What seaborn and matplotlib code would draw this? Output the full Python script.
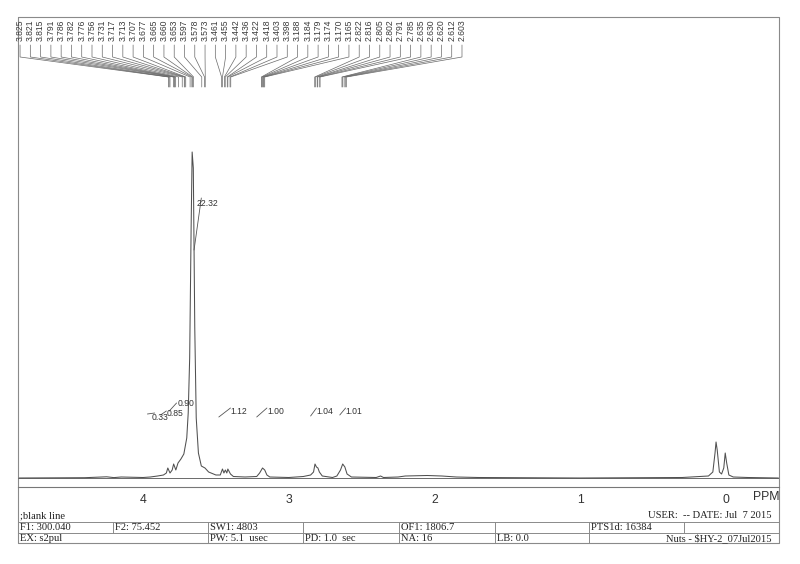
import numpy as np
import pandas as pd
import matplotlib
matplotlib.use("Agg")
import matplotlib.pyplot as plt
import seaborn as sns

# spectrum trace: chemical shift (ppm) and intensity (arb. units)
ppm = [4.85, 4.40, 4.25, 4.20, 4.15, 4.00, 3.95, 3.90, 3.86, 3.84, 3.83, 3.815,
       3.80, 3.79, 3.775, 3.76, 3.74, 3.72, 3.70, 3.69, 3.68, 3.67, 3.663, 3.655,
       3.645, 3.635, 3.62, 3.60, 3.575, 3.55, 3.50, 3.47, 3.455, 3.445, 3.435,
       3.425, 3.418, 3.40, 3.38, 3.30, 3.22, 3.20, 3.18, 3.165, 3.15, 3.13, 3.00,
       2.90, 2.85, 2.83, 2.82, 2.81, 2.80, 2.79, 2.77, 2.70, 2.67, 2.645, 2.63,
       2.615, 2.60, 2.57, 2.40, 2.37, 2.35, 2.25, 2.20, 2.05, 1.95, 1.85, 1.70,
       1.00, 0.30, 0.12, 0.09, 0.075, 0.068, 0.06, 0.045, 0.03, 0.015, 0.005,
       -0.005, -0.02, -0.05, -0.15, -0.36]
intensity = [0, 0.3, 1.2, 0.4, 1.0, 0.5, 1, 2, 3, 5, 10, 5,
             8, 14, 8, 15, 19, 24, 40, 65, 120, 250, 326, 310,
             150, 60, 25, 12, 10, 6, 3, 3, 9, 5, 8,
             5, 9, 4, 1.5, 1, 1.5, 5, 10, 8, 3, 1, 0.5,
             1.5, 3, 6, 14, 11, 10, 6, 2, 0.5, 2, 8, 14,
             11, 4, 1, 0.5, 2, 0.5, 1, 2, 2.5, 2, 1, 0.5,
             0, 0.5, 2, 6, 25, 36, 28, 6, 4, 10, 25,
             15, 3, 1, 0.5, 0]

peak_list = [3.825, 3.821, 3.815, 3.791, 3.786, 3.782, 3.776, 3.756, 3.731, 3.717,
             3.713, 3.707, 3.677, 3.665, 3.660, 3.653, 3.597, 3.578, 3.573, 3.461,
             3.455, 3.442, 3.436, 3.422, 3.418, 3.403, 3.398, 3.188, 3.184, 3.179,
             3.174, 3.170, 3.165, 2.822, 2.816, 2.805, 2.802, 2.791, 2.785, 2.635,
             2.630, 2.620, 2.612, 2.603]

integral_start = [3.97, 3.88, 3.82, 3.65, 3.48, 3.22, 2.85, 2.65]
integral_end = [3.92, 3.84, 3.77, 3.60, 3.40, 3.15, 2.81, 2.61]
integral_values = ["0.33", "0.85", "0.90", "22.32", "1.12", "1.00", "1.04", "1.01"]

ppm_ticks = [4, 3, 2, 1, 0]

row1 = [(20, "F1: 300.040"), (115, "F2: 75.452"), (210, "SW1: 4803"),
        (401, "OF1: 1806.7"), (591, "PTS1d: 16384")]
row2 = [(20, "EX: s2pul"), (210, "PW: 5.1  usec"), (305, "PD: 1.0  sec"),
        (401, "NA: 16"), (497, "LB: 0.0")]

sns.set_style("white")
plt.rcParams['font.family'] = ['Liberation Sans', 'DejaVu Sans']

W, H = 800, 564
fig = plt.figure(figsize=(8, 5.64), dpi=100)
fig.patch.set_facecolor("white")

# page frame and parameter table, in pixel units
page = fig.add_axes([0, 0, 1, 1])
page.set_xlim(0, W)
page.set_ylim(H, 0)
page.axis("off")
fc = "#8a8a8a"
page.plot([18, 779, 779, 18, 18], [17, 17, 543, 543, 17], color=fc, lw=0.8)
for yy in [522, 533]:
    page.plot([18, 779], [yy, yy], color=fc, lw=0.7)
for xx in [113, 684]:
    page.plot([xx, xx], [522, 533], color=fc, lw=0.7)
for xx in [208, 303, 399, 495, 589]:
    page.plot([xx, xx], [522, 543], color=fc, lw=0.7)
serif = dict(family=["Liberation Serif", "DejaVu Serif"], fontsize=7.6, color="#222222")
page.text(20, 516.5, ";blank line", va="center", **serif)
page.text(772, 516, "USER:  -- DATE: Jul  7 2015", ha="right", va="center", **serif)
for xx, s in row1:
    page.text(xx, 528, s, va="center", **serif)
for xx, s in row2:
    page.text(xx, 538.5, s, va="center", **serif)
page.text(772, 538.5, "Nuts - $HY-2_07Jul2015", ha="right", va="center", **serif)
page.text(766, 497, "PPM", ha="center", va="center", fontsize=8.8, color="#333333")

# spectrum axes: x in ppm, y in intensity units
ax = fig.add_axes([18 / W, (H - 487) / H, (779 - 18) / W, (487 - 17) / H])
ax.patch.set_alpha(0)
df = pd.DataFrame({"ppm": ppm, "intensity": intensity})
sns.lineplot(data=df, x="ppm", y="intensity", sort=False, estimator=None,
             color="#505050", lw=0.75, ax=ax)
ax.set_xlim(4.858, -0.364)
ax.set_ylim(-9, 461)
ax.axhline(0, color="#6a6a6a", lw=0.7, zorder=0)
for side in ["top", "left", "right"]:
    ax.spines[side].set_visible(False)
ax.spines["bottom"].set_color("#777777")
ax.spines["bottom"].set_linewidth(0.8)
ax.set_xticks(ppm_ticks)
ax.set_xticklabels([str(t) for t in ppm_ticks])
ax.set_xticks(np.arange(-0.2, 4.81, 0.2), minor=True)
ax.tick_params(axis="x", which="both", direction="out", length=5, width=0.7,
               color="#777777", labelsize=8.8, labelcolor="#333333", pad=0)
ax.set_yticks([])
ax.set_xlabel("")
ax.set_ylabel("")


def px_ppm(px):
    return (726 - px) / 145.75


def px_y(py):
    return 478 - py


# peak picking labels across the top
lab_x = np.linspace(px_ppm(20), px_ppm(462), len(peak_list))
lc = "#6a6a6a"
for lx, pk in zip(lab_x, peak_list):
    ax.text(lx, px_y(41), f"{pk:.3f}", rotation=90, ha="center", va="bottom",
            fontsize=6.2, color="#3a3a3a", clip_on=False)
    ax.plot([lx, lx, pk, pk], [px_y(45), px_y(57), px_y(77), px_y(87)],
            color=lc, lw=0.5, clip_on=False)

# integrals
lo_px = [414, 415, 411, 250, 417, 417, 416, 415]
hi_px = [413, 411, 403, 198, 408, 408, 408, 408]
txt_px = [418, 413.5, 403, 203, 411, 411, 411, 411]
txt_dx = [0.02, 0.0, -0.01, 0.03, 0.0, 0.0, 0.0, 0.0]
for s, e, v, lo, hi, tp, dx in zip(integral_start, integral_end, integral_values,
                                   lo_px, hi_px, txt_px, txt_dx):
    ax.plot([s, e], [px_y(lo), px_y(hi)], color="#555555", lw=0.6)
    ax.text(e + dx, px_y(tp), v, ha="left", va="center", fontsize=6.2,
            color="#333333")

fig.savefig("out.png", dpi=100, facecolor="white")
